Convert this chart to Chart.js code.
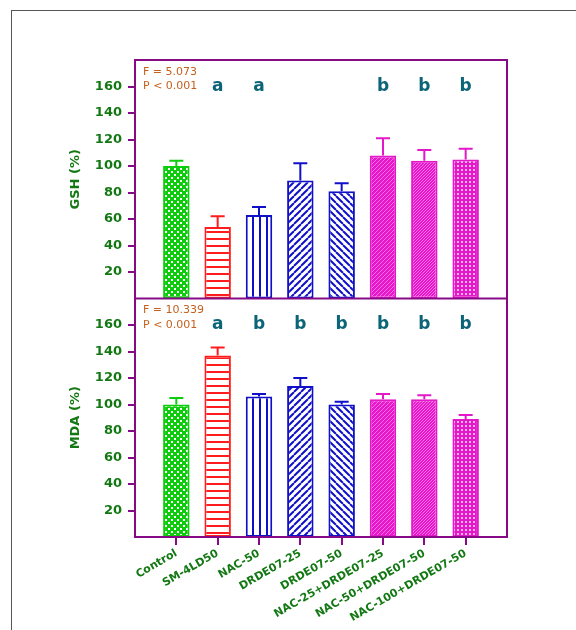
<!DOCTYPE html>
<html>
<head>
<meta charset="utf-8">
<script src="https://cdn.jsdelivr.net/npm/chart.js@4.4.1/dist/chart.umd.min.js"></script>
<style>
html, body { margin: 0; padding: 0; background: #fff; }
#wrap { position: relative; width: 576px; height: 630px; overflow: hidden; }
#edge { position: absolute; left: 11px; top: 10px; width: 700px; height: 700px; border-top: 1px solid #555; border-left: 1px solid #555; }
canvas { position: absolute; left: 0; top: 0; }
</style>
</head>
<body>
<div id="wrap"><div id="edge"></div><canvas id="c" width="576" height="630"></canvas></div>
<script>
// groups and values
const groups = ['Control', 'SM-4LD50', 'NAC-50', 'DRDE07-25', 'DRDE07-50', 'NAC-25+DRDE07-25', 'NAC-50+DRDE07-50', 'NAC-100+DRDE07-50'];
const gshMean = [100, 54, 63, 89, 81, 108, 104, 105];
const gshErr = [4, 8, 6, 13, 6, 13, 8, 8];
const mdaMean = [100, 137, 106, 114, 100, 104, 104, 89];
const mdaErr = [5, 6, 2, 6, 2, 4, 3, 3];
const gshLetters = ['', 'a', 'a', '', '', 'b', 'b', 'b'];
const mdaLetters = ['', 'a', 'b', 'b', 'b', 'b', 'b', 'b'];
const gshStats = ['F = 5.073', 'P < 0.001'];
const mdaStats = ['F = 10.339', 'P < 0.001'];
const yTicks = [20, 40, 60, 80, 100, 120, 140, 160];

const purple = '#860a86';
const green = '#137813';
const teal = '#0b6478';
const orange = '#c4601c';
const FONT = 'DejaVu Sans';

// one empty slot either side, so the first and last bar sit one step from the frame
const pad = a => [null, ...a, null];
const labels = pad(groups).map(v => v || '');

function makePattern(size, bg, draw) {
    const c = document.createElement('canvas');
    c.width = size; c.height = size;
    const g = c.getContext('2d');
    g.fillStyle = bg;
    g.fillRect(0, 0, size, size);
    draw(g, size);
    return g.createPattern(c, 'repeat');
}

function diag(g, s, col, w, back) {
    g.strokeStyle = col;
    g.lineWidth = w;
    g.beginPath();
    for (let k = -1; k <= 1; k++) {
        if (back) { g.moveTo(k * s, 0); g.lineTo(k * s + s, s); }
        else { g.moveTo(k * s, s); g.lineTo(k * s + s, 0); }
    }
    g.stroke();
}

const GREEN = '#0ccc0c', RED = '#ff1c1c', BLUE = '#1010c8', MAG = '#e418c8';
const barLine = [GREEN, RED, BLUE, BLUE, BLUE, MAG, MAG, MAG];
const barFill = [
    makePattern(6, GREEN, g => { g.fillStyle = '#fff'; g.fillRect(0, 0, 2, 2); g.fillRect(3, 3, 2, 2); }),
    makePattern(7, '#fff', g => { g.fillStyle = RED; g.fillRect(0, 0, 7, 2); }),
    makePattern(7, '#fff', g => { g.fillStyle = BLUE; g.fillRect(0, 0, 2, 7); }),
    makePattern(7, '#fff', (g, s) => diag(g, s, BLUE, 2, false)),
    makePattern(7, '#fff', (g, s) => diag(g, s, BLUE, 2, true)),
    makePattern(4, MAG, (g, s) => diag(g, s, '#ff70e6', 1, false)),
    makePattern(3, MAG, (g, s) => diag(g, s, '#ff70e6', 1, false)),
    makePattern(4, MAG, g => { g.fillStyle = '#ffb4f2'; g.fillRect(1, 1, 2, 2); })
];

function yAxis(title, w) {
    return {
        type: 'linear', position: 'left', stack: 'panels', stackWeight: 1, weight: w,
        min: 0, max: 180,
        border: { display: false },
        grid: { drawOnChartArea: false, tickLength: 7, lineWidth: 2, color: purple },
        ticks: { color: green, padding: 6, font: { family: FONT, weight: 'bold', size: 13 } },
        afterBuildTicks: s => { s.ticks = yTicks.map(v => ({ value: v })); },
        title: { display: true, text: title, color: green, padding: { top: 68, bottom: 0 },
                 font: { family: FONT, weight: 'bold', size: 13 } },
        afterFit: s => { s.width = 135; }
    };
}

// error bars, frame, letters and the F/P text
const extras = {
    id: 'extras',
    afterDatasetsDraw(chart) {
        const ctx = chart.ctx;
        const a = chart.chartArea;
        const sets = [
            { i: 0, axis: 'yTop', err: gshErr, mean: gshMean, letters: gshLetters, stats: gshStats },
            { i: 1, axis: 'yBot', err: mdaErr, mean: mdaMean, letters: mdaLetters, stats: mdaStats }
        ];
        ctx.save();
        sets.forEach(s => {
            const y = chart.scales[s.axis];
            const meta = chart.getDatasetMeta(s.i);
            ctx.lineWidth = 2;
            s.mean.forEach((m, k) => {
                const el = meta.data[k + 1];
                const top = y.getPixelForValue(m + s.err[k]);
                ctx.strokeStyle = barLine[k];
                ctx.beginPath();
                ctx.moveTo(el.x, el.y);
                ctx.lineTo(el.x, top);
                ctx.moveTo(el.x - 7, top);
                ctx.lineTo(el.x + 7, top);
                ctx.stroke();
            });
            ctx.fillStyle = teal;
            ctx.font = 'bold 17px "' + FONT + '"';
            ctx.textAlign = 'center';
            ctx.textBaseline = 'middle';
            s.letters.forEach((t, k) => {
                if (t) ctx.fillText(t, meta.data[k + 1].x, y.getPixelForValue(160));
            });
            ctx.fillStyle = orange;
            ctx.font = '11px "' + FONT + '"';
            ctx.textAlign = 'left';
            ctx.fillText(s.stats[0], a.left + 8, y.getPixelForValue(171));
            ctx.fillText(s.stats[1], a.left + 8, y.getPixelForValue(160));
        });
        ctx.strokeStyle = purple;
        ctx.lineWidth = 2;
        ctx.strokeRect(a.left, a.top, a.right - a.left, a.bottom - a.top);
        const mid = chart.scales.yTop.bottom;
        ctx.beginPath();
        ctx.moveTo(a.left, mid);
        ctx.lineTo(a.right, mid);
        ctx.stroke();
        ctx.restore();
    }
};

new Chart(document.getElementById('c'), {
    type: 'bar',
    data: {
        labels: labels,
        datasets: [
            { label: 'GSH', data: pad(gshMean), yAxisID: 'yTop', grouped: false,
              backgroundColor: pad(barFill), borderColor: pad(barLine), borderWidth: 2, borderSkipped: false,
              barPercentage: 0.64, categoryPercentage: 1 },
            { label: 'MDA', data: pad(mdaMean), yAxisID: 'yBot', grouped: false,
              backgroundColor: pad(barFill), borderColor: pad(barLine), borderWidth: 2, borderSkipped: false,
              barPercentage: 0.64, categoryPercentage: 1 }
        ]
    },
    options: {
        responsive: false,
        animation: false,
        layout: { padding: { left: 0, right: 69, top: 60, bottom: 0 } },
        plugins: { legend: { display: false }, tooltip: { enabled: false } },
        scales: {
            x: {
                type: 'category', offset: false,
                border: { display: false },
                grid: { offset: false, drawOnChartArea: false, tickLength: 8, lineWidth: 2,
                        color: c => (c.index === 0 || c.index === labels.length - 1) ? 'rgba(0,0,0,0)' : purple },
                ticks: { autoSkip: false, minRotation: 30, maxRotation: 30, color: green, padding: 2,
                         font: { family: FONT, weight: 'bold', size: 11 } },
                afterFit: s => { s.height = 93; }
            },
            yTop: yAxis('GSH (%)', 1),
            yBot: yAxis('MDA (%)', 0)
        }
    },
    plugins: [extras]
});
</script>
</body>
</html>
